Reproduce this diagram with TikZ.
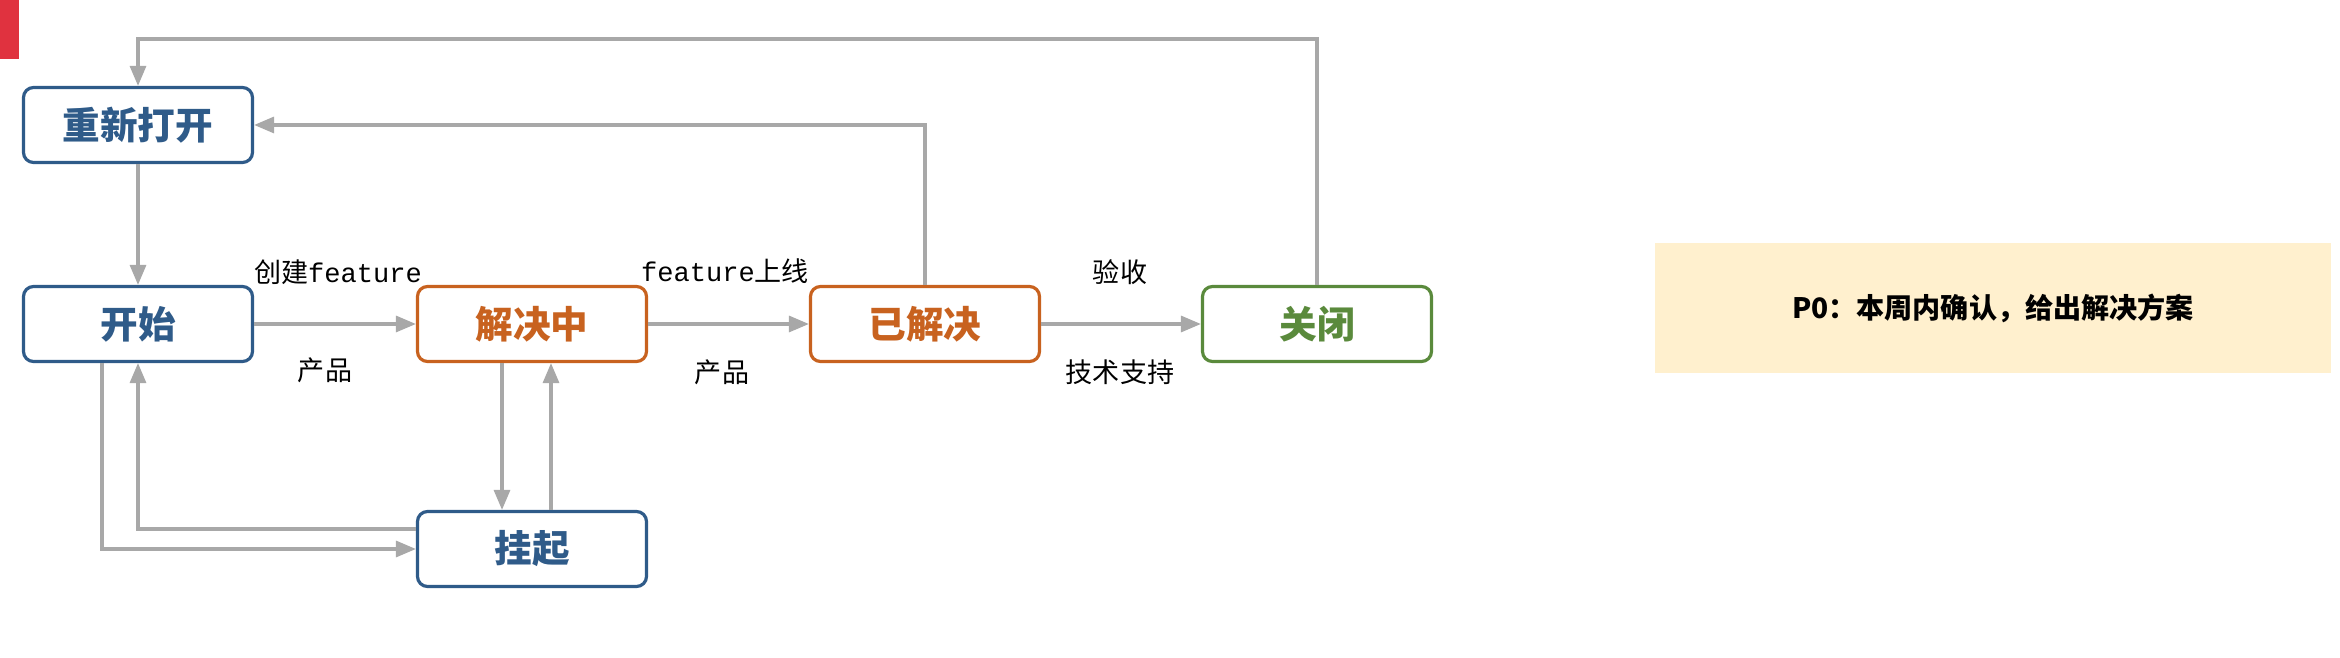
\documentclass[tikz,border=0pt]{standalone}
\usepackage{fontspec}
\usepackage{tikz}
\usetikzlibrary{shapes,arrows.meta,positioning}

\newfontfamily\cjk{Noto Sans CJK SC}
\newfontfamily\mono{Liberation Mono}
\definecolor{stblue}{HTML}{2F5B89}
\definecolor{storange}{HTML}{C8621F}
\definecolor{stgreen}{HTML}{5A8A3C}
\definecolor{linegray}{HTML}{A8A8A8}
\definecolor{notefill}{HTML}{FFF0CE}
\definecolor{markred}{HTML}{E0323F}

\begin{document}
\begin{tikzpicture}[
    state/.style={draw,rectangle,rounded corners=0.1cm,line width=0.9pt,fill=white,
        minimum width=2.29cm,minimum height=0.75cm,inner sep=0pt,
        font=\cjk\bfseries\fontsize{10.7}{12}\selectfont},
    bluestate/.style={state,draw=stblue,text=stblue},
    orangestate/.style={state,draw=storange,text=storange},
    greenstate/.style={state,draw=stgreen,text=stgreen},
    flow/.style={-{Triangle[length=0.2cm,width=0.16cm]},line width=0.9pt,draw=linegray},
    lbl/.style={inner sep=0pt,font=\cjk\fontsize{7.7}{9}\selectfont}
]
    \useasboundingbox (0,0) rectangle (23.4,6.58);
    \fill[markred] (0,6.58) rectangle (0.19,5.99);

    % States
    \node[bluestate] (reopen) at (1.38,5.33) {重新打开};
    \node[bluestate] (start) at (1.38,3.34) {开始};
    \node[orangestate] (solving) at (5.32,3.34) {解决中};
    \node[orangestate] (solved) at (9.25,3.34) {已解决};
    \node[greenstate] (closed) at (13.17,3.34) {关闭};
    \node[bluestate] (hold) at (5.32,1.09) {挂起};

    % Note
    \node[fill=notefill,minimum width=6.76cm,minimum height=1.30cm,inner sep=0pt,
        font=\cjk\bfseries\fontsize{8}{10}\selectfont] (note) at (19.93,3.50) {P0：本周内确认，给出解决方案};

    % Main flow
    \draw[flow] (reopen) -- (start);
    \draw[flow] (start) -- (solving);
    \draw[flow] (solving) -- (solved);
    \draw[flow] (solved) -- (closed);

    % Back to reopen
    \coordinate (topturn) at (1.38,6.19);
    \draw[flow] (closed.north) |- (topturn) -- (reopen.north);
    \draw[flow] (solved.north) |- (reopen.east);

    % Hold
    \draw[flow] ([xshift=-0.30cm]solving.south) -- ([xshift=-0.30cm]solving.south |- hold.north);
    \draw[flow] ([xshift=0.19cm]hold.north) -- ([xshift=0.19cm]hold.north |- solving.south);
    \draw[flow] ([yshift=0.20cm]hold.west) -| (start.south);
    \draw[flow] ([xshift=-0.36cm]start.south) |- (hold.west);

    % Labels
    \node[lbl] (lcreate) at (3.38,3.86) {创建{\mono feature}};
    \node[lbl] (lprod1) at (3.25,2.88) {产品};
    \node[lbl] (lonline) at (7.25,3.87) {{\mono feature}上线};
    \node[lbl] (lprod2) at (7.22,2.86) {产品};
    \node[lbl] (laccept) at (11.20,3.86) {验收};
    \node[lbl] (lsupport) at (11.20,2.86) {技术支持};
\end{tikzpicture}
\end{document}
